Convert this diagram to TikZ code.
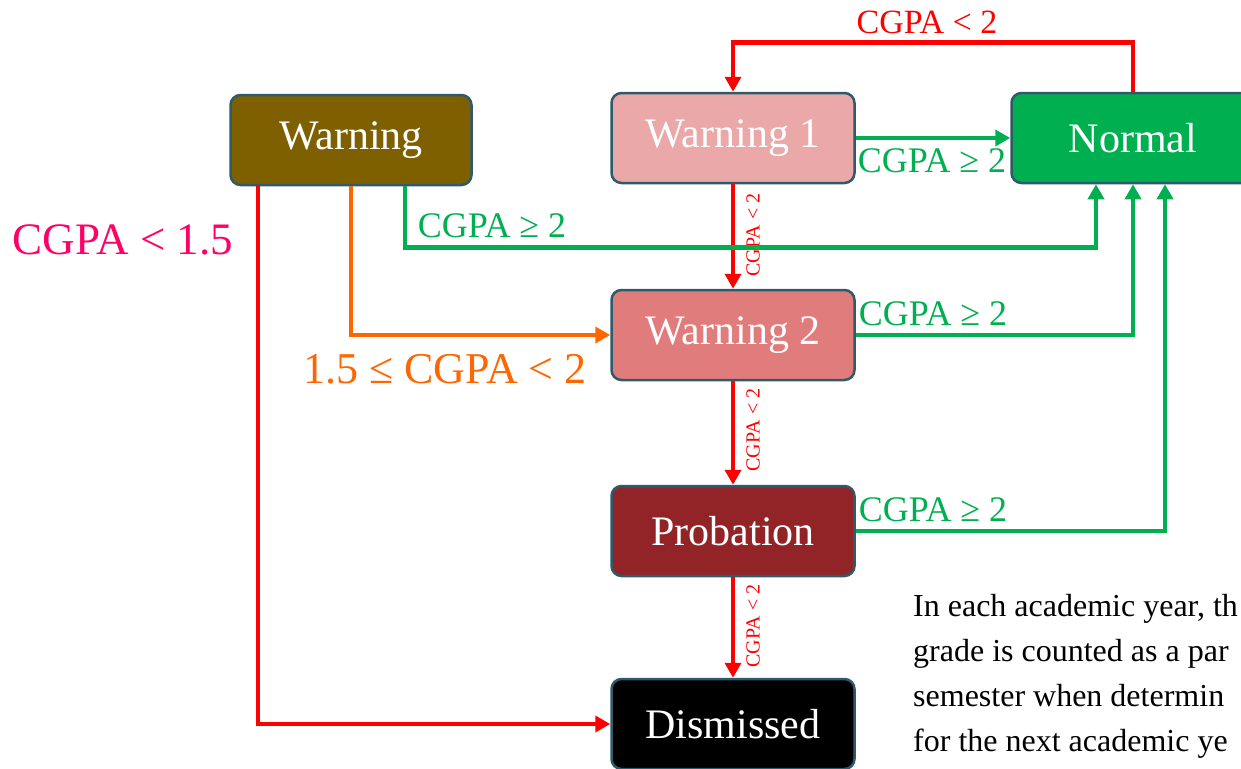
\documentclass[tikz,border=0pt]{standalone}
\usepackage{fontspec}
\setmainfont{Liberation Serif}
\usepackage{tikz}
\usetikzlibrary{arrows.meta,positioning,calc}
\definecolor{bord}{HTML}{2E5A6B}
\definecolor{brn}{HTML}{7F6000}
\definecolor{pinkA}{HTML}{EAA8A8}
\definecolor{pinkB}{HTML}{E07C7C}
\definecolor{maroon}{HTML}{922428}
\definecolor{grn}{HTML}{00B050}
\definecolor{orng}{HTML}{FF6600}
\definecolor{mgnt}{HTML}{FF0066}
\newcommand{\fs}[1]{\fontsize{#1}{#1}\selectfont}

\begin{document}
\begin{tikzpicture}[x=1pt,y=-1pt,>={Stealth[inset=0pt,length=15pt,width=16pt]},
 bx/.style={draw=bord,line width=2.5pt,rounded corners=10pt,minimum width=243pt,minimum height=90pt,text=white,font=\fs{42}},
 rd/.style={red,line width=4.5pt},gr/.style={grn,line width=4.5pt},og/.style={orng,line width=4.5pt},
 sm/.style={red,font=\fs{20},rotate=90,inner sep=0pt},cg/.style={grn,font=\fs{36}}]
\clip (0,0) rectangle (1241,768);
\node[bx,fill=brn,minimum width=241pt] (wn) at (351,140) {Warning};
\node[bx,fill=pinkA] (w1) at (733,138) {Warning 1};
\node[bx,fill=grn] (nrm) at (1133,138) {Normal};
\node[bx,fill=pinkB] (w2) at (733,335) {Warning 2};
\node[bx,fill=maroon] (prb) at (733,531) {Probation};
\node[bx,fill=black] (dis) at (733,724) {Dismissed};
% red: down the chain
\draw[rd,->] (nrm.north) -- ++(0,-49) -| (w1.north);
\draw[rd,->] (w1) -- (w2);\draw[rd,->] (w2) -- (prb);\draw[rd,->] (prb) -- (dis);
\node[sm] (l1) at (753,235) {CGPA < 2};\node[sm] (l2) at (753,430) {CGPA < 2};\node[sm] (l3) at (753,626) {CGPA < 2};
\node[red,font=\fs{34}] (lt) at (927,22) {CGPA < 2};
% green: back to normal
\draw[gr,->] (w1.east) -- (nrm.west);
\draw[gr,->] ([xshift=54pt]wn.south) -- ++(0,61) -| ([xshift=-37pt]nrm.south);
\draw[gr,->] (w2.east) -| (nrm.south);
\draw[gr,->] (prb.east) -| ([xshift=32pt]nrm.south);
\node[cg] (g1) at (932,161) {CGPA ≥ 2};
\node[cg] (g2) at (492,226) {CGPA ≥ 2};
\node[cg] (g3) at (933,314) {CGPA ≥ 2};
\node[cg] (g4) at (933,510) {CGPA ≥ 2};
% from warning
\draw[og,->] (wn.south) |- (w2.west);
\draw[rd,->] ([xshift=-93pt]wn.south) |- (dis.west);
\node[orng,font=\fs{44}] (o1) at (445,369) {1.5 ≤ CGPA < 2};
\node[mgnt,font=\fs{45}] (m1) at (123,240) {CGPA < 1.5};
\node[anchor=north west,inner sep=0pt,align=left,font=\fontsize{32}{45}\selectfont] (txt) at (913,594) {In each academic year, th\\grade is counted as a par\\semester when determin\\for the next academic ye};
\end{tikzpicture}
\end{document}
